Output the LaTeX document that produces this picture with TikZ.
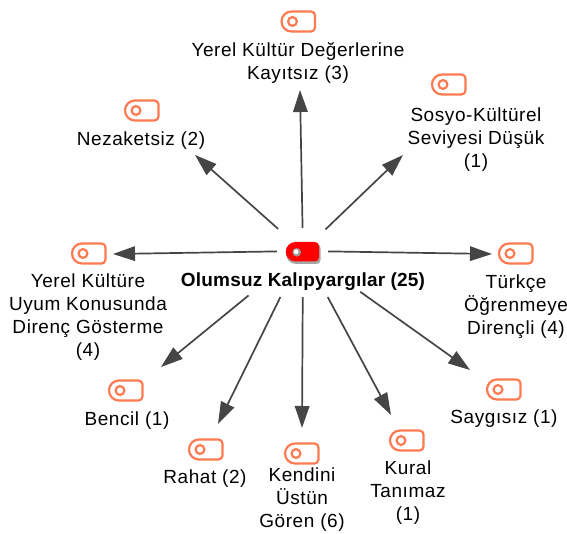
\documentclass[tikz,border=0pt]{standalone}
\usepackage{fontspec}
\setmainfont[LetterSpace=3,BoldFeatures={LetterSpace=1}]{Liberation Sans}
\usetikzlibrary{arrows.meta}
\definecolor{tagline}{HTML}{FF7A50}
\definecolor{arrowgray}{HTML}{454545}
\tikzset{
  x=1pt,y=-1pt,
  lbl/.style={align=center,font=\fontsize{19}{23}\selectfont,inner sep=0pt,text=black},
  hubtext/.style={align=center,font=\fontsize{19}{23}\selectfont\bfseries,inner sep=0pt},
  anchorpt/.style={inner sep=0pt,minimum size=0pt},
  link/.style={draw=arrowgray,line width=1.7pt,-{Triangle[length=22pt,width=14.5pt,fill=arrowgray]}},
  pics/leaftag/.style={code={
    \draw[tagline,line width=2.2pt,fill=white]
      (-7,-10) -- (12.5,-10) arc[start angle=-90,end angle=0,radius=4] -- (16.5,6)
      arc[start angle=0,end angle=90,radius=4] -- (-7,10)
      arc[start angle=90,end angle=270,radius=10] -- cycle;
    \draw[tagline,line width=2.2pt] (-6,0) circle[radius=4.4];
  }},
  pics/hubtag/.style={code={
    \fill[black!35] (-7,-7.5) -- (13.5,-7.5) arc[start angle=-90,end angle=0,radius=4] -- (17.5,8.5)
      arc[start angle=0,end angle=90,radius=4] -- (-7,12.5)
      arc[start angle=90,end angle=270,radius=10] -- cycle;
    \fill[red] (-7.5,-9.5) -- (12,-9.5) arc[start angle=-90,end angle=0,radius=4] -- (16,6)
      arc[start angle=0,end angle=90,radius=4] -- (-7.5,10)
      arc[start angle=90,end angle=270,radius=9.75] -- cycle;
    \fill[black!40] (-6.3,0.8) circle[radius=4.3];
    \fill[white] (-6.8,0.3) circle[radius=2.4];
  }},
}
\begin{document}
\begin{tikzpicture}
\useasboundingbox (0,0) rectangle (567,534);
% icons
\pic at (303,251.5) {hubtag};
\pic at (298.5,21.5) {leaftag};
\pic at (449,84.5) {leaftag};
\pic at (142,110.5) {leaftag};
\pic at (89,253.5) {leaftag};
\pic at (516,253.5) {leaftag};
\pic at (126,390.5) {leaftag};
\pic at (504,389.5) {leaftag};
\pic at (206,449.5) {leaftag};
\pic at (302,453.5) {leaftag};
\pic at (407,440.5) {leaftag};
% labels
\node[hubtext] (hub) at (303,281.5) {Olumsuz Kalıpyargılar (25)};
\node[lbl] (a) at (298,63) {Yerel Kültür Değerlerine\\Kayıtsız (3)};
\node[lbl] (b) at (476,139.5) {Sosyo-Kültürel\\Seviyesi Düşük\\(1)};
\node[lbl] (c) at (141,140.5) {Nezaketsiz (2)};
\node[lbl] (d) at (88,317.5) {Yerel Kültüre\\Uyum Konusunda\\Direnç Gösterme\\(4)};
\node[lbl] (e) at (516,306.5) {Türkçe\\Öğrenmeye\\Dirençli (4)};
\node[lbl] (f) at (127,420.5) {Bencil (1)};
\node[lbl] (g) at (504,418.5) {Saygısız (1)};
\node[lbl] (h) at (205,478.5) {Rahat (2)};
\node[lbl] (i) at (302,499.5) {Kendini\\Üstün\\Gören (6)};
\node[lbl] (j) at (408,492.5) {Kural\\Tanımaz\\(1)};
% hub centre and arrow ends
\node[anchorpt] (hc) at (303,251) {};
\coordinate (ta) at (300,90);
\coordinate (tb) at (403,155);
\coordinate (tc) at (195,155);
\coordinate (td) at (113,254);
\coordinate (te) at (492,254);
\coordinate (tf) at (161,367);
\coordinate (tg) at (470,370);
\coordinate (th) at (218,424);
\coordinate (ti) at (302,428);
\coordinate (tj) at (391,415);
\draw[link,shorten <=23pt] (hc) -- (ta);
\draw[link,shorten <=31pt] (hc) -- (tb);
\draw[link,shorten <=33pt] (hc) -- (tc);
\draw[link,shorten <=26pt] (hc) -- (td);
\draw[link,shorten <=25pt] (hc) -- (te);
\draw[link,shorten <=70pt] (hc) -- (tf);
\draw[link,shorten <=51pt] (hc) -- (th);
\draw[link,shorten <=46pt] (hc) -- (ti);
\draw[link,shorten <=52pt] (hc) -- (tj);
\draw[link,shorten <=70pt] (hc) -- (tg);
\end{tikzpicture}
\end{document}
